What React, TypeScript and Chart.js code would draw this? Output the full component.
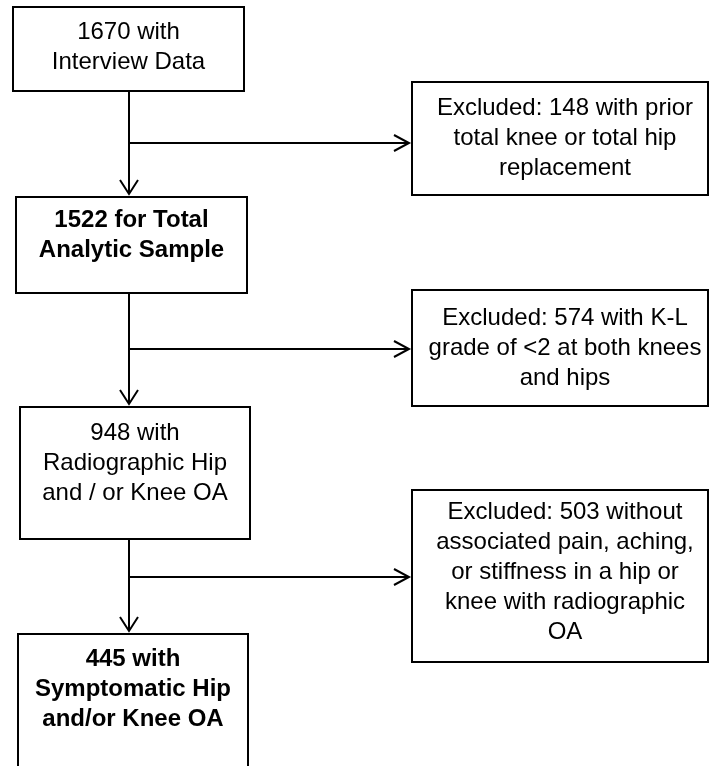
import React, { useEffect, useRef } from "react";
import { Chart, registerables } from "chart.js";

Chart.register(...registerables);

// ---- data ----
const stepCounts = [1670, 1522, 948, 445];
const stepLabels = [
  ["1670 with", "Interview Data"],
  ["1522 for Total", "Analytic Sample"],
  ["948 with", "Radiographic Hip", "and / or Knee OA"],
  ["445 with", "Symptomatic Hip", "and/or Knee OA"],
];
const stepBold = [false, true, false, true];
const excludedCounts = [148, 574, 503];
const excludedLabels = [
  ["Excluded: 148 with prior", "total knee or total hip", "replacement"],
  ["Excluded: 574 with K-L", "grade of <2 at both knees", "and hips"],
  [
    "Excluded: 503 without",
    "associated pain, aching,",
    "or stiffness in a hip or",
    "knee with radiographic",
    "OA",
  ],
];

// ---- layout (in scale units = pixels of a 710x766 frame) ----
const W = 710;
const H = 766;
const SPINE_X = 129;
const LINE_H = 30;
const FONT_PX = 24;
const stepBoxes = [
  { x0: 13, x1: 244, y0: 7, y1: 91, first: 32 },
  { x0: 16, x1: 247, y0: 197, y1: 293, first: 220 },
  { x0: 20, x1: 250, y0: 407, y1: 539, first: 433 },
  { x0: 18, x1: 248, y0: 634, y1: 820, first: 659 },
];
const exclBoxes = [
  { x0: 412, x1: 708, y0: 82, y1: 195, cy: 138 },
  { x0: 412, x1: 708, y0: 290, y1: 406, cy: 348 },
  { x0: 412, x1: 708, y0: 490, y1: 662, cy: 572 },
];
const EXCL_TEXT_X = 565;
const branchY = [143, 349, 577];

const flowPlugin = {
  id: "flow",
  afterDraw(chart: any) {
    const ctx: CanvasRenderingContext2D = chart.ctx;
    const xs = chart.scales.x;
    const ys = chart.scales.y;
    const px = (v: number) => xs.getPixelForValue(v);
    const py = (v: number) => ys.getPixelForValue(v);
    ctx.save();
    ctx.strokeStyle = "#000";
    ctx.fillStyle = "#000";
    ctx.lineWidth = 2;
    ctx.lineCap = "butt";

    const box = (b: any) => {
      ctx.strokeRect(px(b.x0), py(b.y0), px(b.x1) - px(b.x0), py(b.y1) - py(b.y0));
    };
    const text = (lines: string[], cx: number, firstY: number, bold: boolean) => {
      ctx.font = `${bold ? "bold " : ""}${FONT_PX}px "Liberation Sans", Arial, sans-serif`;
      ctx.textAlign = "center";
      ctx.textBaseline = "middle";
      lines.forEach((l, i) => ctx.fillText(l, px(cx), py(firstY + i * LINE_H)));
    };
    const line = (x0: number, y0: number, x1: number, y1: number) => {
      ctx.beginPath();
      ctx.moveTo(px(x0), py(y0));
      ctx.lineTo(px(x1), py(y1));
      ctx.stroke();
    };
    const headDown = (x: number, y: number) => {
      ctx.beginPath();
      ctx.moveTo(px(x - 9), py(y - 14));
      ctx.lineTo(px(x), py(y));
      ctx.lineTo(px(x + 9), py(y - 14));
      ctx.stroke();
    };
    const headRight = (x: number, y: number) => {
      ctx.beginPath();
      ctx.moveTo(px(x - 15), py(y - 8));
      ctx.lineTo(px(x), py(y));
      ctx.lineTo(px(x - 15), py(y + 8));
      ctx.stroke();
    };

    stepCounts.forEach((_, i) => {
      const b = stepBoxes[i];
      box(b);
      text(stepLabels[i], (b.x0 + b.x1) / 2, b.first, stepBold[i]);
    });
    excludedCounts.forEach((_, i) => {
      const b = exclBoxes[i];
      box(b);
      const n = excludedLabels[i].length;
      text(excludedLabels[i], EXCL_TEXT_X, b.cy - ((n - 1) * LINE_H) / 2, false);
    });
    for (let i = 0; i < 3; i++) {
      const from = stepBoxes[i].y1;
      const tip = stepBoxes[i + 1].y0 - 3;
      line(SPINE_X, from, SPINE_X, tip);
      headDown(SPINE_X, tip);
      const hx = exclBoxes[i].x0 - 3;
      line(SPINE_X, branchY[i], hx, branchY[i]);
      headRight(hx, branchY[i]);
    }
    ctx.restore();
  },
};

export default function App() {
  const ref = useRef<HTMLCanvasElement | null>(null);
  useEffect(() => {
    if (!ref.current) return;
    const chart = new Chart(ref.current, {
      type: "scatter",
      data: { datasets: [{ data: [], showLine: false }] },
      options: {
        animation: false,
        responsive: false,
        maintainAspectRatio: false,
        layout: { padding: 0 },
        plugins: { legend: { display: false }, tooltip: { enabled: false } },
        scales: {
          x: { type: "linear", min: 0, max: W, display: false },
          y: { type: "linear", min: 0, max: H, reverse: true, display: false },
        },
      },
      plugins: [flowPlugin],
    });
    return () => chart.destroy();
  }, []);
  return (
    <div style={{ position: "absolute", left: 0, top: 0, width: W, height: H, background: "#fff" }}>
      <canvas ref={ref} width={W} height={H} style={{ width: W, height: H, display: "block" }} />
    </div>
  );
}
